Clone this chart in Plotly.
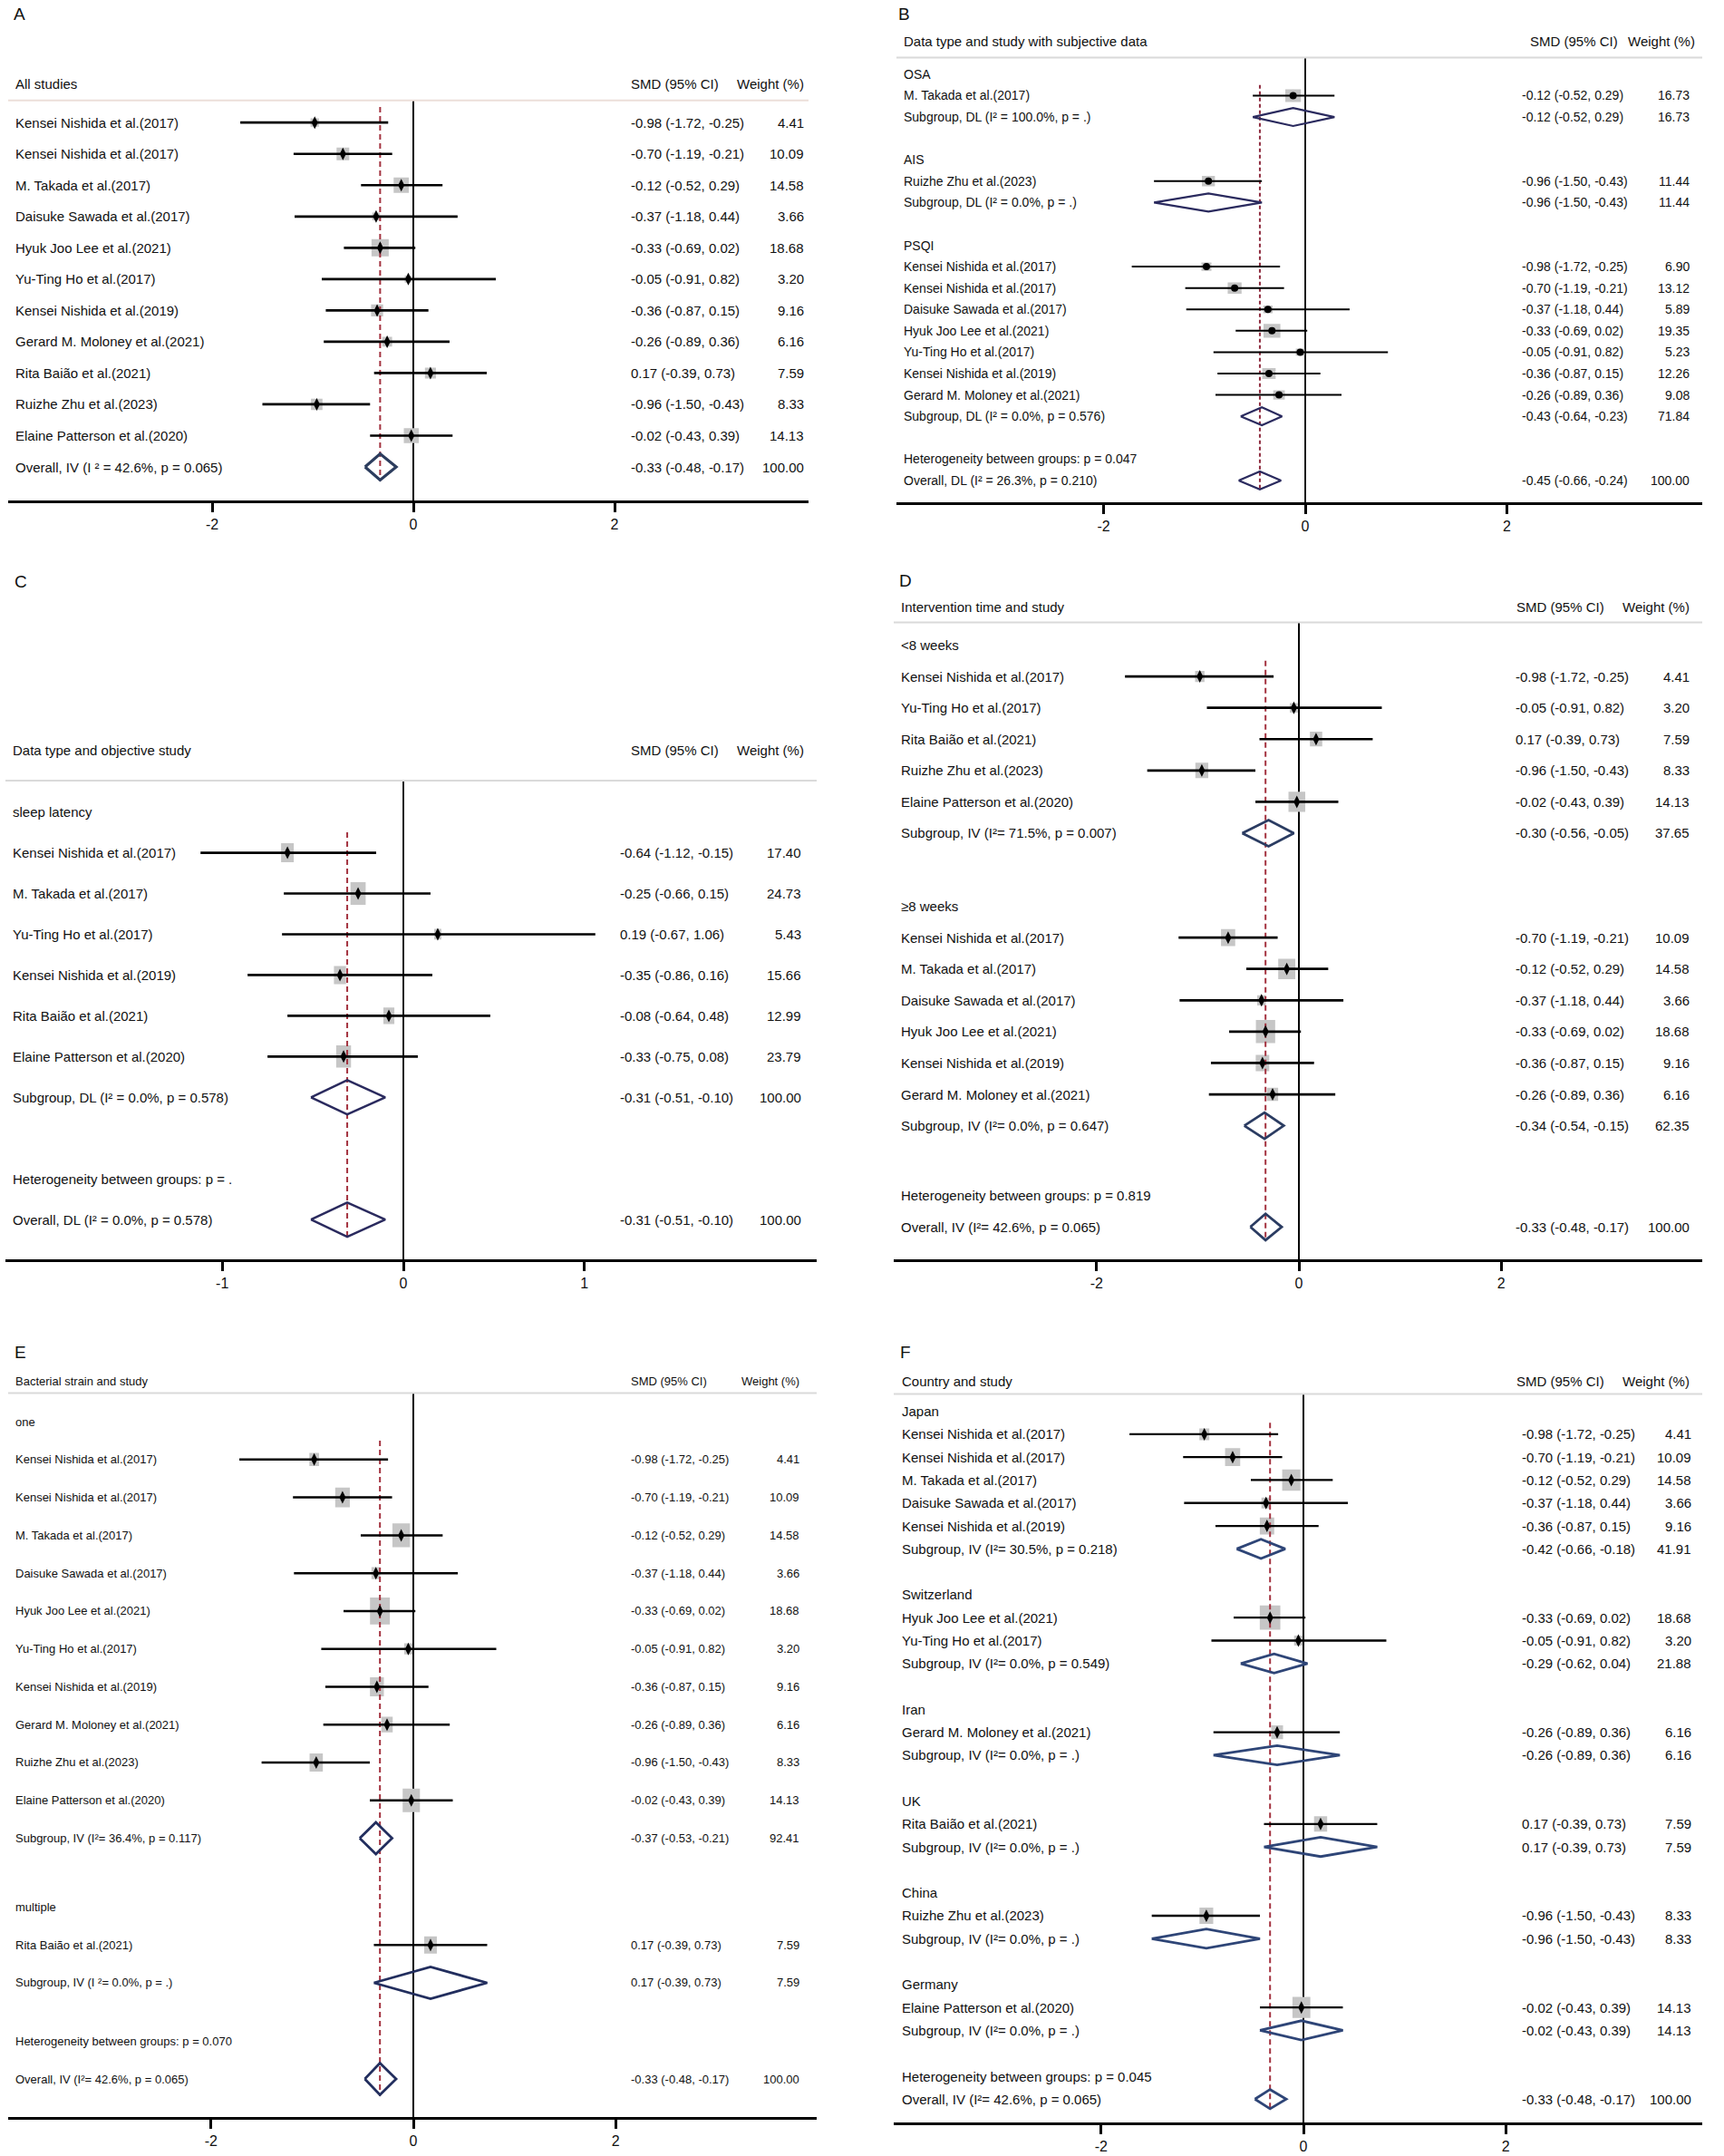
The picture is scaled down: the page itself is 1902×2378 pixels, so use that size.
import math

import plotly.graph_objects as go

W, H = 1902, 2378

# ---------------- data ----------------
# the eleven trials (IV weights used in A, D, E, F)
study_names = [
    "Kensei Nishida et al.(2017)",
    "Kensei Nishida et al.(2017)",
    "M. Takada et al.(2017)",
    "Daisuke Sawada et al.(2017)",
    "Hyuk Joo Lee et al.(2021)",
    "Yu-Ting Ho et al.(2017)",
    "Kensei Nishida et al.(2019)",
    "Gerard M. Moloney et al.(2021)",
    "Rita Baião et al.(2021)",
    "Ruizhe Zhu et al.(2023)",
    "Elaine Patterson et al.(2020)",
]
study_smd = [-0.98, -0.70, -0.12, -0.37, -0.33, -0.05, -0.36, -0.26, 0.17, -0.96, -0.02]
study_low = [-1.72, -1.19, -0.52, -1.18, -0.69, -0.91, -0.87, -0.89, -0.39, -1.50, -0.43]
study_high = [-0.25, -0.21, 0.29, 0.44, 0.02, 0.82, 0.15, 0.36, 0.73, -0.43, 0.39]
study_weight = [4.41, 10.09, 14.58, 3.66, 18.68, 3.20, 9.16, 6.16, 7.59, 8.33, 14.13]

overall_iv = [-0.33, -0.48, -0.17, 100.00]
overall_iv_i2 = ["42.6%", "0.065"]

# B: data type, subjective data (DL)
b_groups = ["OSA", "AIS", "PSQI"]
b_members = [[2], [9], [0, 1, 3, 4, 5, 6, 7]]
b_weight = [[16.73], [11.44], [6.90, 13.12, 5.89, 19.35, 5.23, 12.26, 9.08]]
b_sub = [[-0.12, -0.52, 0.29, 16.73], [-0.96, -1.50, -0.43, 11.44], [-0.43, -0.64, -0.23, 71.84]]
b_sub_i2 = [["100.0%", "."], ["0.0%", "."], ["0.0%", "0.576"]]
b_het = "0.047"
b_overall = [-0.45, -0.66, -0.24, 100.00]
b_overall_i2 = ["26.3%", "0.210"]

# C: data type, objective study (DL)
c_group = "sleep latency"
c_names = [
    "Kensei Nishida et al.(2017)",
    "M. Takada et al.(2017)",
    "Yu-Ting Ho et al.(2017)",
    "Kensei Nishida et al.(2019)",
    "Rita Baião et al.(2021)",
    "Elaine Patterson et al.(2020)",
]
c_smd = [-0.64, -0.25, 0.19, -0.35, -0.08, -0.33]
c_low = [-1.12, -0.66, -0.67, -0.86, -0.64, -0.75]
c_high = [-0.15, 0.15, 1.06, 0.16, 0.48, 0.08]
c_weight = [17.40, 24.73, 5.43, 15.66, 12.99, 23.79]
c_sub = [-0.31, -0.51, -0.10, 100.00]
c_sub_i2 = ["0.0%", "0.578"]
c_het = "."

# D: intervention time
d_groups = ["<8 weeks", "≥8 weeks"]
d_members = [[0, 5, 8, 9, 10], [1, 2, 3, 4, 6, 7]]
d_sub = [[-0.30, -0.56, -0.05, 37.65], [-0.34, -0.54, -0.15, 62.35]]
d_sub_i2 = [["71.5%", "0.007"], ["0.0%", "0.647"]]
d_het = "0.819"

# E: bacterial strain
e_groups = ["one", "multiple"]
e_members = [[0, 1, 2, 3, 4, 5, 6, 7, 9, 10], [8]]
e_sub = [[-0.37, -0.53, -0.21, 92.41], [0.17, -0.39, 0.73, 7.59]]
e_sub_i2 = [["36.4%", "0.117"], ["0.0%", "."]]
e_het = "0.070"

# F: country
f_groups = ["Japan", "Switzerland", "Iran", "UK", "China", "Germany"]
f_members = [[0, 1, 2, 3, 6], [4, 5], [7], [8], [9], [10]]
f_sub = [
    [-0.42, -0.66, -0.18, 41.91],
    [-0.29, -0.62, 0.04, 21.88],
    [-0.26, -0.89, 0.36, 6.16],
    [0.17, -0.39, 0.73, 7.59],
    [-0.96, -1.50, -0.43, 8.33],
    [-0.02, -0.43, 0.39, 14.13],
]
f_sub_i2 = [["30.5%", "0.218"], ["0.0%", "0.549"], ["0.0%", "."], ["0.0%", "."], ["0.0%", "."], ["0.0%", "."]]
f_het = "0.045"

# ---------------- text templates ----------------
IV_SUB = "Subgroup, IV (I²= {}, p = {})"
IV_SUB_SP = "Subgroup, IV (I ²= {}, p = {})"
IV_ALL = "Overall, IV (I²= {}, p = {})"
DL_SUB = "Subgroup, DL (I² = {}, p = {})"
DL_ALL = "Overall, DL (I² = {}, p = {})"
HET = "Heterogeneity between groups: p = {}"


def items(idx, weights=None):
    return [
        (study_names[i], study_smd[i], study_low[i], study_high[i],
         weights[j] if weights else study_weight[i])
        for j, i in enumerate(idx)
    ]


def grouped(labels, members, subs, sub_i2, templates, weights=None):
    if isinstance(templates, str):
        templates = [templates] * len(labels)
    out = []
    for g, lab in enumerate(labels):
        out.append(dict(
            label=lab,
            items=items(members[g], weights[g] if weights else None),
            sub=(templates[g].format(*sub_i2[g]), *subs[g]),
        ))
    return out


CONTENT = {
    "A": dict(
        header="All studies",
        groups=[dict(label=None, items=items(range(11)), sub=None)],
        het=None,
        overall=("Overall, IV (I ² = {}, p = {})".format(*overall_iv_i2), *overall_iv),
    ),
    "B": dict(
        header="Data type and study with subjective data",
        groups=grouped(b_groups, b_members, b_sub, b_sub_i2, DL_SUB, b_weight),
        het=HET.format(b_het),
        overall=(DL_ALL.format(*b_overall_i2), *b_overall),
    ),
    "C": dict(
        header="Data type and objective study",
        groups=[dict(
            label=c_group,
            items=list(zip(c_names, c_smd, c_low, c_high, c_weight)),
            sub=(DL_SUB.format(*c_sub_i2), *c_sub),
        )],
        het=HET.format(c_het),
        overall=(DL_ALL.format(*c_sub_i2), *c_sub),
    ),
    "D": dict(
        header="Intervention time and study",
        groups=grouped(d_groups, d_members, d_sub, d_sub_i2, IV_SUB),
        het=HET.format(d_het),
        overall=(IV_ALL.format(*overall_iv_i2), *overall_iv),
    ),
    "E": dict(
        header="Bacterial strain and study",
        groups=grouped(e_groups, e_members, e_sub, e_sub_i2, [IV_SUB, IV_SUB_SP]),
        het=HET.format(e_het),
        overall=(IV_ALL.format(*overall_iv_i2), *overall_iv),
    ),
    "F": dict(
        header="Country and study",
        groups=grouped(f_groups, f_members, f_sub, f_sub_i2, IV_SUB),
        het=HET.format(f_het),
        overall=(IV_ALL.format(*overall_iv_i2), *overall_iv),
    ),
}

# ---------------- layout / style (pixels of the page) ----------------
BASE = dict(
    ticks=[-2, 0, 2], font=15, hfont=15, dot="diamond-tall", dot_size=10,
    ci_w=2.7, dia_w=2.8, dia_col="#2b3c62", zero_w=2, red_col="#a3323f",
    red_dash="6px,4px", hline_col="#dadada", gap=1, gap_het=1,
)
STYLE = {
    "A": dict(BASE, x0=9, x1=892, zero=456, unit=111.0, p0=135.2, sp=34.53, axis=552,
              head=92.3, hline=110.8, letter=(21, 15.4), lab_x=15, smd_x=694, wt_x=889,
              hsmd_x=694, hwt_x=889, box=(19, 19), hline_col="#ecdfd9", dia_w=3.2,
              dia_col="#2c3d5e"),
    "B": dict(BASE, x0=989, x1=1878, zero=1440, unit=111.25, p0=81.9, sp=23.58, axis=554,
              head=45, hline=63.5, letter=(998, 15.4), lab_x=995, smd_x=1677, wt_x=1866,
              hsmd_x=1686, hwt_x=1872, box=(18.6, 15.1), font=14, dot="circle",
              dot_size=8, ci_w=2.0, dia_w=2.2, dia_col="#2a2a5e", zero_w=1.8,
              red_col="#8e2b3e", red_dash="4px,3px"),
    "C": dict(BASE, x0=6, x1=901, zero=445, unit=199.8, p0=895.6, sp=44.96, axis=1389,
              head=827.5, hline=861, letter=(23, 641), lab_x=12, smd_x=682, wt_x=886,
              hsmd_x=694, hwt_x=889, box=(16.7, 25), ticks=[-1, 0, 1], dia_w=2.5,
              dia_col="#2a2a5e", zero_w=1.8),
    "D": dict(BASE, x0=986, x1=1878, zero=1433, unit=111.55, p0=711.5, sp=34.58, axis=1389,
              head=669.5, hline=686.5, letter=(999.5, 640), lab_x=992, smd_x=1670, wt_x=1866,
              hsmd_x=1671, hwt_x=1866, box=(21.3, 25.5), gap=1.33, gap_het=1.23),
    "E": dict(BASE, x0=9, x1=901, zero=456, unit=111.6, p0=1568.1, sp=41.76, axis=2335,
              head=1523.2, hline=1536.4, letter=(22.5, 1491.5), lab_x=15, smd_x=694, wt_x=884,
              hsmd_x=694, hwt_x=884, box=(21.9, 29.9), font=13, hfont=13,
              gap=0.82, gap_het=0.54, ci_w=2.5, dia_col="#222e5e"),
    "F": dict(BASE, x0=986, x1=1878, zero=1438, unit=111.55, p0=1556.6, sp=25.29, axis=2341,
              head=1523.2, hline=1537.6, letter=(999, 1491.5), lab_x=993, smd_x=1677, wt_x=1868,
              hsmd_x=1671, hwt_x=1866, box=(22.7, 26.7), ci_w=2.3, dia_col="#2e4577"),
}

DIAMOND_HALF = 0.42   # rows
TXT = "#111111"


def build_rows(content, gap, gap_het):
    rows = []
    y = 0.0
    for gi, g in enumerate(content["groups"]):
        if gi > 0:
            y += gap
        if g["label"]:
            rows.append(("label", y, g["label"]))
            y += 1
        for it in g["items"]:
            rows.append(("study", y, it))
            y += 1
        if g["sub"]:
            rows.append(("pooled", y, g["sub"]))
            y += 1
    if content["het"]:
        y += gap_het
        rows.append(("label", y, content["het"]))
        y += 1
    rows.append(("pooled", y, content["overall"]))
    return rows


fig = go.Figure()
annotations = []

for k, key in enumerate("ABCDEF", start=1):
    c = CONTENT[key]
    s = STYLE[key]
    sfx = "" if k == 1 else str(k)
    xr, yr = "x" + sfx, "y" + sfx

    def px(v):
        return (v - s["zero"]) / s["unit"]

    def py(v):
        return (v - s["p0"]) / s["sp"]

    rows = build_rows(c, s["gap"], s["gap_het"])
    studies = [r for r in rows if r[0] == "study"]
    pooled = [r for r in rows if r[0] == "pooled"]
    wmax = max(r[2][4] for r in studies)
    ov = c["overall"]
    xlo, xhi = px(s["x0"]), px(s["x1"])

    # zero line and header rule
    fig.add_trace(go.Scatter(x=[0, 0], y=[py(s["hline"]), py(s["axis"])], mode="lines",
                             line=dict(color="black", width=s["zero_w"]),
                             xaxis=xr, yaxis=yr, hoverinfo="skip"))
    fig.add_trace(go.Scatter(x=[xlo, xhi], y=[py(s["hline"])] * 2, mode="lines",
                             line=dict(color=s["hline_col"], width=2),
                             xaxis=xr, yaxis=yr, hoverinfo="skip"))

    # weight boxes
    bx, by = [], []
    for _, y, (name, est, lo, hi, w) in studies:
        f = math.sqrt(w / wmax)
        hw = s["box"][0] / 2 / s["unit"] * f
        hh = s["box"][1] / 2 / s["sp"] * f
        bx += [est - hw, est + hw, est + hw, est - hw, est - hw, None]
        by += [y - hh, y - hh, y + hh, y + hh, y - hh, None]
    fig.add_trace(go.Scatter(x=bx, y=by, mode="lines", fill="toself", fillcolor="#c6c6c6",
                             line=dict(width=0, color="#c6c6c6"),
                             xaxis=xr, yaxis=yr, hoverinfo="skip"))

    # overall effect reference line
    fig.add_trace(go.Scatter(x=[ov[1], ov[1]], y=[studies[0][1] - 0.5, pooled[-1][1] + 0.45],
                             mode="lines",
                             line=dict(color=s["red_col"], width=2, dash=s["red_dash"]),
                             xaxis=xr, yaxis=yr, hoverinfo="skip"))

    # confidence intervals
    lx, ly = [], []
    for _, y, (name, est, lo, hi, w) in studies:
        lx += [lo, hi, None]
        ly += [y, y, None]
    fig.add_trace(go.Scatter(x=lx, y=ly, mode="lines",
                             line=dict(color="black", width=s["ci_w"]),
                             xaxis=xr, yaxis=yr, hoverinfo="skip"))

    # point estimates
    fig.add_trace(go.Scatter(x=[r[2][1] for r in studies], y=[r[1] for r in studies],
                             mode="markers",
                             marker=dict(symbol=s["dot"], size=s["dot_size"], color="black"),
                             xaxis=xr, yaxis=yr, hoverinfo="skip"))

    # pooled diamonds
    dx, dy = [], []
    for _, y, (name, est, lo, hi, w) in pooled:
        dx += [lo, est, hi, est, lo, None]
        dy += [y, y - DIAMOND_HALF, y, y + DIAMOND_HALF, y, None]
    fig.add_trace(go.Scatter(x=dx, y=dy, mode="lines",
                             line=dict(color=s["dia_col"], width=s["dia_w"]),
                             xaxis=xr, yaxis=yr, hoverinfo="skip"))

    # texts
    def note(x, y, text, anchor, size):
        annotations.append(dict(x=x, y=y, xref=xr, yref=yr, text=text, showarrow=False,
                                xanchor=anchor, yanchor="middle",
                                font=dict(size=size, color=TXT)))

    hy = py(s["head"])
    note(px(s["lab_x"]), hy, c["header"], "left", s["hfont"])
    note(px(s["hsmd_x"]), hy, "SMD (95% CI)", "left", s["hfont"])
    note(px(s["hwt_x"]), hy, "Weight (%)", "right", s["hfont"])
    for kind, y, payload in rows:
        if kind == "label":
            note(px(s["lab_x"]), y, payload, "left", s["font"])
            continue
        name, est, lo, hi, w = payload
        note(px(s["lab_x"]), y, name, "left", s["font"])
        note(px(s["smd_x"]), y, f"{est:.2f} ({lo:.2f}, {hi:.2f})", "left", s["font"])
        note(px(s["wt_x"]), y, f"{w:.2f}", "right", s["font"])

    # panel letter
    annotations.append(dict(x=s["letter"][0] / W, y=1 - s["letter"][1] / H, xref="paper",
                            yref="paper", text=key, showarrow=False, xanchor="center",
                            yanchor="middle", font=dict(size=19, color=TXT)))

    top = s["head"] - 30
    fig.update_layout(**{
        "xaxis" + sfx: dict(
            domain=[s["x0"] / W, s["x1"] / W], range=[xlo, xhi], anchor=yr,
            showline=True, linecolor="black", linewidth=2.7, ticks="outside",
            ticklen=10, tickwidth=2.5, tickcolor="black", tickvals=s["ticks"],
            ticktext=[str(t) for t in s["ticks"]], tickfont=dict(size=16, color=TXT),
            showgrid=False, zeroline=False, fixedrange=True,
        ),
        "yaxis" + sfx: dict(
            domain=[1 - s["axis"] / H, 1 - top / H], range=[py(s["axis"]), py(top)],
            anchor=xr, visible=False, fixedrange=True,
        ),
    })

fig.update_layout(
    width=W,
    height=H,
    margin=dict(l=0, r=0, t=0, b=0),
    paper_bgcolor="white",
    plot_bgcolor="white",
    showlegend=False,
    font=dict(family="Liberation Sans, Arial, sans-serif", color=TXT),
    annotations=annotations,
)

# the page's default body margin would push the figure off the bottom edge
fig.write_html(
    "out.html",
    config={"displayModeBar": False},
    post_script="document.body.style.margin = '0px';",
)
